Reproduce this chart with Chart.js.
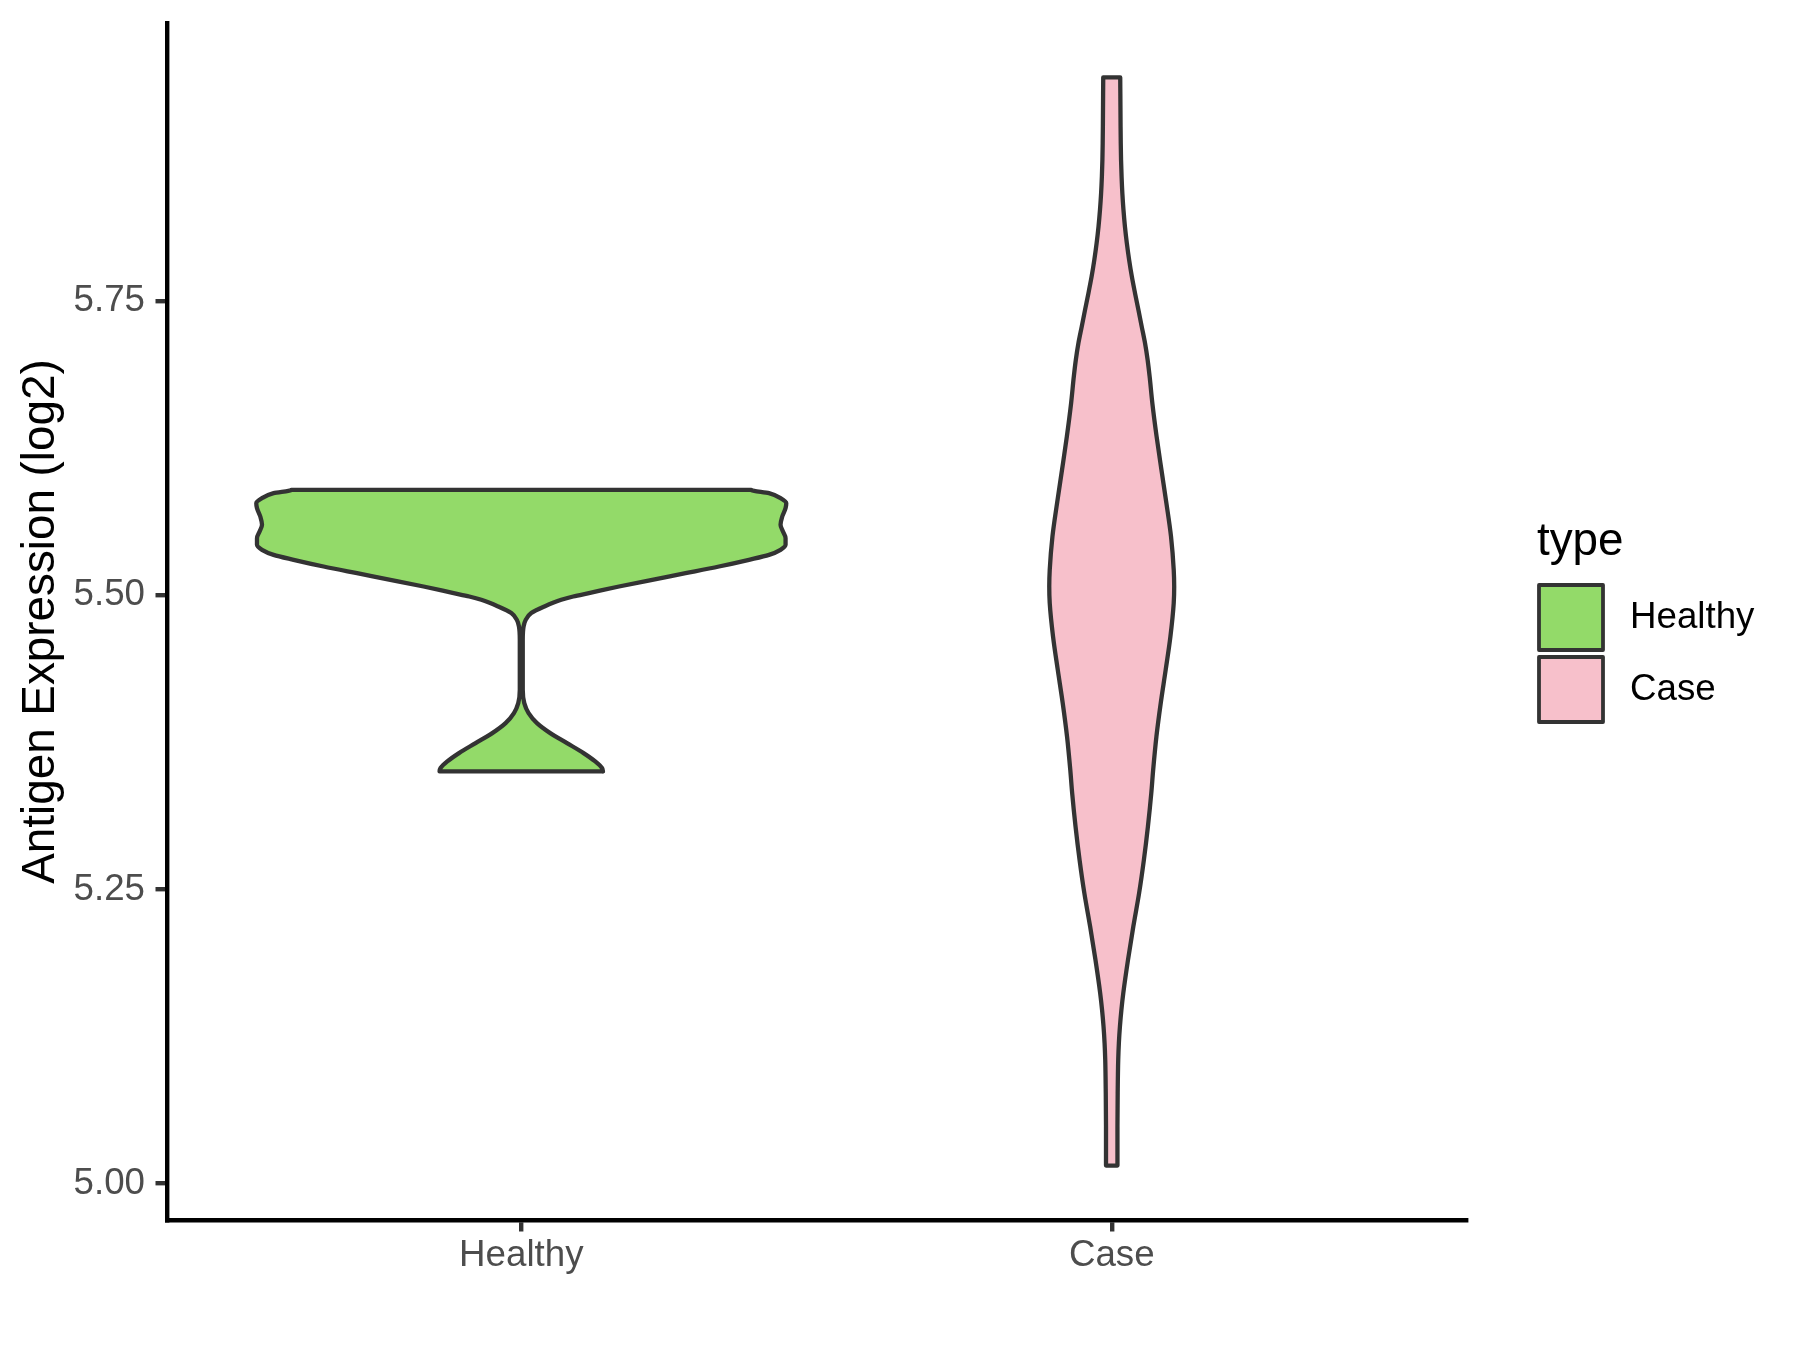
<!DOCTYPE html>
<html>
<head>
<meta charset="utf-8">
<script src="https://cdn.jsdelivr.net/npm/chart.js@4.4.1/dist/chart.umd.min.js"></script>
<style>
html,body{margin:0;padding:0;background:#ffffff;overflow:hidden}
canvas{display:block}
</style>
</head>
<body>
<canvas id="c" width="1800" height="1350"></canvas>
<script>
// ---------------- data ----------------
const categories = ['Healthy', 'Case'];
const yTicks = [5.00, 5.25, 5.50, 5.75];
const yTickLabels = ['5.00', '5.25', '5.50', '5.75'];
const yAxisTitle = 'Antigen Expression (log2)';
const legendTitle = 'type';

// violin profiles: expression value (bottom -> top) and half width (in category units)
const healthyValues = [5.3503, 5.3532, 5.3588, 5.3659, 5.3744, 5.3829, 5.3914, 5.3999, 5.4084, 5.4197,
  5.4622, 5.4735, 5.4792, 5.4849, 5.4905, 5.4962, 5.4990, 5.5019, 5.5075, 5.5132, 5.5188, 5.5245,
  5.5302, 5.5344, 5.5387, 5.5429, 5.5486, 5.5542, 5.5599, 5.5670, 5.5741, 5.5783, 5.5826, 5.5868, 5.5896];
const healthyHalfWidths = [0.1384, 0.1367, 0.1253, 0.1055, 0.0774, 0.0491, 0.0266, 0.0124, 0.0051, 0.0025,
  0.0025, 0.0039, 0.0076, 0.0169, 0.0390, 0.0677, 0.0880, 0.1146, 0.1655, 0.2218, 0.2782, 0.3348,
  0.3856, 0.4195, 0.4391, 0.4476, 0.4476, 0.4432, 0.4391, 0.4420, 0.4476, 0.4488, 0.4391, 0.4195, 0.3895];

const caseValues = [5.0153, 5.0487, 5.0770, 5.1053, 5.1194, 5.1336, 5.1478, 5.1620, 5.1903, 5.2186, 5.2470, 5.2753,
  5.3036, 5.3319, 5.3517, 5.3800, 5.4084, 5.4367, 5.4650, 5.4934, 5.5075, 5.5217, 5.5500, 5.5783,
  5.6066, 5.6350, 5.6633, 5.6859, 5.7001, 5.7143, 5.7284, 5.7426, 5.7567, 5.7708, 5.7850, 5.7992,
  5.8133, 5.8275, 5.8417, 5.8558, 5.8700, 5.8842, 5.8983, 5.9266, 5.9402];
const caseHalfWidths = [0.0097, 0.0097, 0.0101, 0.0110, 0.0121, 0.0139, 0.0164, 0.0196, 0.0276, 0.0366, 0.0464, 0.0545,
  0.0613, 0.0670, 0.0702, 0.0757, 0.0830, 0.0914, 0.0994, 0.1050, 0.1058, 0.1050, 0.1004, 0.0926,
  0.0842, 0.0760, 0.0688, 0.0642, 0.0608, 0.0564, 0.0508, 0.0452, 0.0395, 0.0341, 0.0295, 0.0256,
  0.0224, 0.0199, 0.0180, 0.0167, 0.0158, 0.0153, 0.0150, 0.0146, 0.0144];

// ---------------- helpers ----------------
const FONT = '"Liberation Sans", Arial, Helvetica, sans-serif';
const fillColors = ['#93DA69', '#F7C0CB'];

function violinOutline(center, values, hw) {
  const pts = [];
  for (let i = 0; i < values.length; i++) pts.push({x: center + hw[i], y: values[i]});
  for (let i = values.length - 1; i >= 0; i--) pts.push({x: center - hw[i], y: values[i]});
  pts.push({x: center + hw[0], y: values[0]});
  return pts;
}

const allVals = healthyValues.concat(caseValues);
const dMin = Math.min(...allVals), dMax = Math.max(...allVals);
const yMin = dMin - 0.05 * (dMax - dMin);
const yMax = dMax + 0.05 * (dMax - dMin);

const legendPlugin = {
  id: 'ggLegend',
  afterDraw(chart) {
    const ctx = chart.ctx;
    ctx.save();
    ctx.textAlign = 'left';
    ctx.fillStyle = '#000000';
    ctx.font = '45.8px ' + FONT;
    ctx.textBaseline = 'alphabetic';
    ctx.fillText(legendTitle, 1537, 555);
    chart.data.datasets.forEach((ds, i) => {
      const top = 585 + i * 72;
      ctx.fillStyle = ds.backgroundColor;
      ctx.strokeStyle = ds.borderColor;
      ctx.lineWidth = 3.8;
      ctx.lineJoin = 'round';
      ctx.beginPath();
      ctx.rect(1539, top, 64, 65);
      ctx.fill();
      ctx.stroke();
      ctx.fillStyle = '#000000';
      ctx.font = '36.7px ' + FONT;
      ctx.textBaseline = 'middle';
      ctx.fillText(ds.label, 1630, top + 32.5);
    });
    ctx.restore();
  }
};

const datasets = [
  {label: categories[0], data: violinOutline(1, healthyValues, healthyHalfWidths)},
  {label: categories[1], data: violinOutline(2, caseValues, caseHalfWidths)}
].map((d, i) => Object.assign(d, {
  backgroundColor: fillColors[i],
  borderColor: '#333333',
  borderWidth: 4.3,
  borderJoinStyle: 'round',
  borderCapStyle: 'round',
  fill: 'shape',
  pointRadius: 0,
  pointHoverRadius: 0,
  cubicInterpolationMode: 'monotone',
  tension: 0
}));

new Chart(document.getElementById('c').getContext('2d'), {
  type: 'line',
  data: {datasets},
  options: {
    indexAxis: 'y',
    responsive: false,
    animation: false,
    devicePixelRatio: 1,
    events: [],
    layout: {padding: {top: 23, right: 334, bottom: 0, left: 0}},
    plugins: {legend: {display: false}, tooltip: {enabled: false}},
    scales: {
      x: {
        type: 'linear',
        position: 'bottom',
        min: 0.4,
        max: categories.length + 0.6,
        afterBuildTicks: s => { s.ticks = categories.map((c, i) => ({value: i + 1})); },
        afterFit: s => { s.height = 130; s.paddingLeft = 0; s.paddingRight = 0; },
        ticks: {
          autoSkip: false, maxRotation: 0,
          callback: v => categories[Math.round(v) - 1],
          font: {family: FONT, size: 36.7},
          color: '#4D4D4D',
          padding: 2.5
        },
        grid: {drawOnChartArea: false, drawTicks: true, tickLength: 11.5, tickWidth: 4.4, tickColor: '#333333', lineWidth: 4.4},
        border: {display: true, color: '#000000', width: 4.4}
      },
      y: {
        type: 'linear',
        position: 'left',
        min: yMin,
        max: yMax,
        afterBuildTicks: s => { s.ticks = yTicks.map(v => ({value: v})); },
        afterFit: s => { s.width = 167; s.paddingTop = 0; s.paddingBottom = 0; },
        ticks: {
          autoSkip: false,
          callback: (v, i) => yTickLabels[i],
          font: {family: FONT, size: 36.7},
          color: '#4D4D4D',
          padding: 10.5
        },
        grid: {drawOnChartArea: false, drawTicks: true, tickLength: 11.5, tickWidth: 4.4, tickColor: '#333333', lineWidth: 4.4},
        border: {display: true, color: '#000000', width: 4.4},
        title: {
          display: true,
          text: yAxisTitle,
          font: {family: FONT, size: 45.8},
          color: '#000000',
          padding: {top: 14, bottom: 0}
        }
      }
    }
  },
  plugins: [legendPlugin]
});
</script>
</body>
</html>
